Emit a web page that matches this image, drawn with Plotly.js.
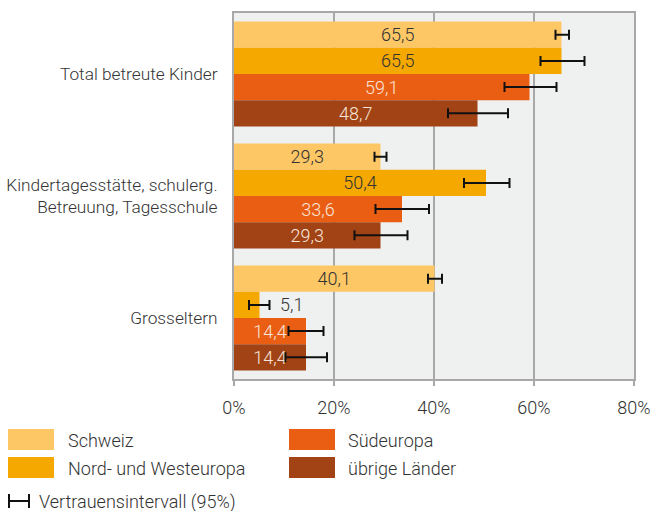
<!DOCTYPE html>
<html><head><meta charset="utf-8">
<script src="https://cdn.plot.ly/plotly-3.0.1.min.js"></script>
<style>html,body{margin:0;padding:0;background:#fff}#chart{width:652px;height:511px}</style>
</head><body><div id="chart"></div>
<script>
const categories = ['Total betreute Kinder', 'Kindertagesstätte, schulerg.<br>Betreuung, Tagesschule', 'Grosseltern'];
const seriesNames = ['Schweiz', 'Nord- und Westeuropa', 'Südeuropa', 'übrige Länder'];
const schweiz = [65.5, 29.3, 40.1];
const nordWest = [65.5, 50.4, 5.1];
const sued = [59.1, 33.6, 14.4];
const uebrige = [48.7, 29.3, 14.4];
const schweizLow = [64.3, 28.1, 38.8], schweizHigh = [67.0, 30.5, 41.6];
const nordWestLow = [61.3, 46.0, 3.0], nordWestHigh = [70.1, 55.1, 7.1];
const suedLow = [54.1, 28.3, 10.9], suedHigh = [64.5, 39.0, 17.9];
const uebrigeLow = [42.8, 24.1, 10.3], uebrigeHigh = [54.8, 34.7, 18.6];
const xTickVals = [0, 20, 40, 60, 80];
const xTickText = ['0%', '20%', '40%', '60%', '80%'];
const ciLabel = 'Vertrauensintervall (95%)';

const colors = ['#fdc766', '#f5a800', '#ea5e13', '#a14314'];
const textColors = ['#333333', '#333333', '#f7e4d8', '#f7e4d8'];
const values = [schweiz, nordWest, sued, uebrige];
const lows = [schweizLow, nordWestLow, suedLow, uebrigeLow];
const highs = [schweizHigh, nordWestHigh, suedHigh, uebrigeHigh];
const FONT = 'Roboto Light, Roboto, sans-serif';
const FS = 18;

const fmt = v => v.toFixed(1).replace('.', ',');
const traces = values.map((vals, i) => ({
  type: 'bar', orientation: 'h', name: seriesNames[i],
  y: categories, x: vals,
  marker: {color: colors[i]},
  text: vals.map(v => v < 10 ? '\u00a0\u00a0\u00a0\u00a0' + fmt(v) : fmt(v)),
  textposition: vals.map(v => v < 10 ? 'outside' : 'inside'),
  insidetextanchor: 'middle',
  textfont: {color: vals.map(v => v < 10 ? '#333333' : textColors[i]), size: FS, family: FONT, weight: 300},
  cliponaxis: false,
  constraintext: 'none',
  error_x: {type: 'data', symmetric: false,
    array: vals.map((v, k) => highs[i][k] - v),
    arrayminus: vals.map((v, k) => v - lows[i][k]),
    color: '#111111', thickness: 2, width: 5},
  hoverinfo: 'none', showlegend: false
}));

const L = 234, R = 634, T = 13, B = 379;
const px = x => (x - L) / (R - L);
const py = y => (B - y) / (B - T);
const shapes = [], annotations = [];
const legendPos = [[8, 429, 66], [8, 457, 66], [289, 429, 346], [289, 457, 346]];
seriesNames.forEach((n, i) => {
  const [x0, y0, tx] = legendPos[i];
  shapes.push({type: 'rect', xref: 'paper', yref: 'paper', x0: px(x0), x1: px(x0 + 46), y0: py(y0), y1: py(y0 + 21), fillcolor: colors[i], line: {width: 0}});
  annotations.push({xref: 'paper', yref: 'paper', x: px(tx), y: py(y0 + 11), xanchor: 'left', yanchor: 'middle', text: n, showarrow: false, font: {size: FS, color: '#333', family: FONT, weight: 300}});
});
const ln = {color: '#111', width: 2};
shapes.push({type: 'line', xref: 'paper', yref: 'paper', x0: px(9), x1: px(29), y0: py(501), y1: py(501), line: ln});
shapes.push({type: 'line', xref: 'paper', yref: 'paper', x0: px(9), x1: px(9), y0: py(494), y1: py(508), line: ln});
shapes.push({type: 'line', xref: 'paper', yref: 'paper', x0: px(29), x1: px(29), y0: py(494), y1: py(508), line: ln});
annotations.push({xref: 'paper', yref: 'paper', x: px(37), y: py(501.5), xanchor: 'left', yanchor: 'middle', text: ciLabel, showarrow: false, font: {size: FS, color: '#333', family: FONT, weight: 300}});

const layout = {
  width: 652, height: 511,
  margin: {l: L, r: 652 - R, t: T, b: 511 - B, pad: 0},
  paper_bgcolor: '#ffffff', plot_bgcolor: '#eff0f0',
  font: {family: FONT, size: FS, color: '#333', weight: 300},
  barmode: 'group', bargap: 0.14, bargroupgap: 0,
  showlegend: false,
  xaxis: {range: [0, 80], tickvals: xTickVals, ticktext: xTickText, showgrid: true, gridcolor: '#a8a8a8', gridwidth: 1.5,
    showline: true, mirror: true, linecolor: '#a8a8a8', linewidth: 2, ticks: 'outside', ticklen: 5, tickcolor: '#a8a8a8', tickwidth: 2,
    ticklabelstandoff: 6,
    zeroline: false, fixedrange: true, tickfont: {size: FS, color: '#333', family: FONT, weight: 300}},
  yaxis: {type: 'category', autorange: 'reversed', showgrid: false, showline: true, mirror: true, linecolor: '#a8a8a8', linewidth: 2,
    ticks: '', ticklabelstandoff: 11, tickfont: {size: 17.3, color: '#333', family: FONT, weight: 300}, fixedrange: true},
  shapes, annotations
};
Plotly.newPlot('chart', traces, layout, {displayModeBar: false, staticPlot: true});
</script></body></html>
